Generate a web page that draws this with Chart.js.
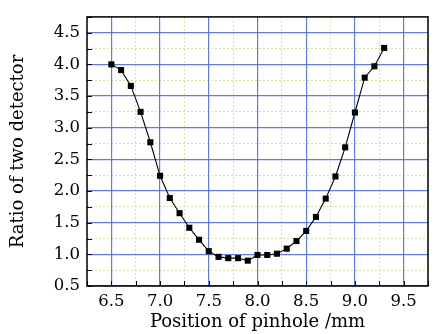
<!DOCTYPE html>
<html>
<head>
<meta charset="utf-8">
<script src="https://cdn.jsdelivr.net/npm/chart.js@4/dist/chart.umd.min.js"></script>
<style>
  html, body { margin: 0; padding: 0; background: #fff; }
  canvas { display: block; }
</style>
</head>
<body>
<canvas id="chart" width="437" height="334"></canvas>
<script>
const positions = [6.5, 6.6, 6.7, 6.8, 6.9, 7.0, 7.1, 7.2, 7.3, 7.4, 7.5, 7.6, 7.7, 7.8, 7.9,
  8.0, 8.1, 8.2, 8.3, 8.4, 8.5, 8.6, 8.7, 8.8, 8.9, 9.0, 9.1, 9.2, 9.3];
const ratios = [4.00, 3.91, 3.66, 3.25, 2.77, 2.24, 1.89, 1.65, 1.42, 1.23, 1.05, 0.96, 0.94, 0.94, 0.90,
  0.99, 0.99, 1.01, 1.09, 1.21, 1.37, 1.59, 1.88, 2.23, 2.69, 3.24, 3.79, 3.97, 4.26];

const xTicks = [6.5, 7.0, 7.5, 8.0, 8.5, 9.0, 9.5];
const yTicks = [0.5, 1.0, 1.5, 2.0, 2.5, 3.0, 3.5, 4.0, 4.5];
const xMin = 6.25, xMax = 9.75;
const yMin = 0.5, yMax = 4.75;
const minorStep = 0.25;

const FONT = "'DejaVu Serif', serif";
const BLUE = "rgba(80,110,205,0.9)";
const MINOR = "rgba(205,222,165,0.9)";

function minorValues(min, max) {
  const out = [];
  for (let v = min; v <= max + 1e-9; v += minorStep) out.push(+v.toFixed(2));
  return out;
}

// frame box and inward tick marks
const frame = {
  id: "frame",
  afterDraw(chart) {
    const { ctx, chartArea: a, scales } = chart;
    ctx.save();
    ctx.strokeStyle = "#000";
    ctx.lineWidth = 1;
    ctx.beginPath();
    minorValues(xMin, xMax).forEach(v => {
      const px = Math.round(scales.x.getPixelForValue(v)) + 0.5;
      ctx.moveTo(px, a.bottom);
      ctx.lineTo(px, a.bottom - 5);
    });
    minorValues(yMin, yMax).forEach(v => {
      const py = Math.round(scales.y.getPixelForValue(v)) + 0.5;
      ctx.moveTo(a.left, py);
      ctx.lineTo(a.left + 5, py);
    });
    ctx.stroke();
    ctx.lineWidth = 1.5;
    ctx.strokeRect(a.left, a.top, a.right - a.left, a.bottom - a.top);
    ctx.restore();
  }
};

new Chart(document.getElementById("chart"), {
  type: "line",
  data: {
    datasets: [{
      data: positions.map((x, i) => ({ x: x, y: ratios[i] })),
      borderColor: "#000",
      borderWidth: 1.1,
      backgroundColor: "#000",
      pointStyle: "rect",
      pointRadius: 4.3,
      pointBorderWidth: 0,
      tension: 0
    }]
  },
  options: {
    responsive: false,
    animation: false,
    devicePixelRatio: 1,
    layout: { padding: { top: 7, right: 9, left: 0, bottom: 0 } },
    plugins: { legend: { display: false }, tooltip: { enabled: false } },
    scales: {
      xMinor: {
        type: "linear", position: "bottom", min: xMin, max: xMax,
        afterBuildTicks: s => { s.ticks = minorValues(xMin, xMax).filter(v => !xTicks.includes(v)).map(v => ({ value: v })); },
        ticks: { display: false },
        grid: { color: MINOR, lineWidth: 1, drawTicks: false },
        border: { display: false, dash: [2, 2] },
        afterFit: s => { s.height = 0; }
      },
      yMinor: {
        type: "linear", position: "left", min: yMin, max: yMax,
        afterBuildTicks: s => { s.ticks = minorValues(yMin, yMax).filter(v => !yTicks.includes(v)).map(v => ({ value: v })); },
        ticks: { display: false },
        grid: { color: MINOR, lineWidth: 1, drawTicks: false },
        border: { display: false, dash: [2, 2] },
        afterFit: s => { s.width = 0; }
      },
      x: {
        type: "linear", position: "bottom", min: xMin, max: xMax,
        afterBuildTicks: s => { s.ticks = xTicks.map(v => ({ value: v })); },
        ticks: {
          color: "#000", padding: 6,
          font: { family: FONT, size: 16.5 },
          callback: v => v.toFixed(1)
        },
        grid: { color: BLUE, lineWidth: 1.2, drawTicks: false },
        border: { display: false },
        title: {
          display: true, text: "Position of pinhole /mm", color: "#000",
          font: { family: FONT, size: 18 }, padding: { top: 0, bottom: 1 }
        },
        afterFit: s => { s.height = 48; }
      },
      y: {
        type: "linear", position: "left", min: yMin, max: yMax,
        afterBuildTicks: s => { s.ticks = yTicks.map(v => ({ value: v })); },
        ticks: {
          color: "#000", padding: 7,
          font: { family: FONT, size: 16.5 },
          callback: v => v.toFixed(1)
        },
        grid: { color: BLUE, lineWidth: 1.2, drawTicks: false },
        border: { display: false },
        title: {
          display: true, text: "Ratio of two detector", color: "#000",
          font: { family: FONT, size: 18 }, padding: { top: 8, bottom: 0 }
        },
        afterFit: s => { s.width = 87; }
      }
    }
  },
  plugins: [frame]
});
</script>
</body>
</html>
